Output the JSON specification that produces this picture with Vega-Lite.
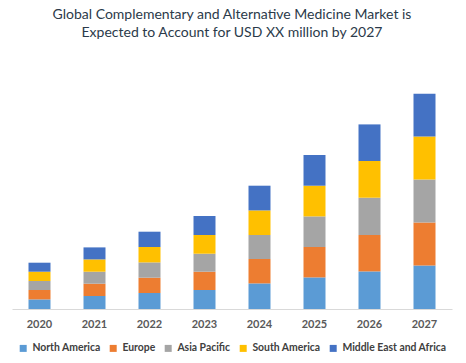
{
  "$schema": "https://vega.github.io/schema/vega-lite/v6.json",
  "width": 440,
  "height": 260,
  "autosize": {"type": "none"},
  "padding": {"left": 12, "right": 14, "top": 49, "bottom": 54},
  "background": "white",
  "title": {
    "text": ["Global Complementary and Alternative Medicine Market is", "Expected to Account for USD XX million by 2027"],
    "font": "Lato",
    "fontSize": 14,
    "fontWeight": "normal",
    "color": "#2b3a4a",
    "lineHeight": 18,
    "anchor": "middle",
    "offset": 9
  },
  "data": {
    "values": [
      {"year": "2020", "region": "North America", "value": 9.6},
      {"year": "2020", "region": "Europe", "value": 9.4},
      {"year": "2020", "region": "Asia Pacific", "value": 9.0},
      {"year": "2020", "region": "South America", "value": 9.3},
      {"year": "2020", "region": "Middle East and Africa", "value": 9.0},
      {"year": "2021", "region": "North America", "value": 13.0},
      {"year": "2021", "region": "Europe", "value": 12.3},
      {"year": "2021", "region": "Asia Pacific", "value": 12.0},
      {"year": "2021", "region": "South America", "value": 12.3},
      {"year": "2021", "region": "Middle East and Africa", "value": 12.0},
      {"year": "2022", "region": "North America", "value": 16.0},
      {"year": "2022", "region": "Europe", "value": 15.3},
      {"year": "2022", "region": "Asia Pacific", "value": 15.3},
      {"year": "2022", "region": "South America", "value": 15.4},
      {"year": "2022", "region": "Middle East and Africa", "value": 15.3},
      {"year": "2023", "region": "North America", "value": 19.0},
      {"year": "2023", "region": "Europe", "value": 18.3},
      {"year": "2023", "region": "Asia Pacific", "value": 18.0},
      {"year": "2023", "region": "South America", "value": 18.7},
      {"year": "2023", "region": "Middle East and Africa", "value": 19.0},
      {"year": "2024", "region": "North America", "value": 25.6},
      {"year": "2024", "region": "Europe", "value": 24.4},
      {"year": "2024", "region": "Asia Pacific", "value": 24.0},
      {"year": "2024", "region": "South America", "value": 24.6},
      {"year": "2024", "region": "Middle East and Africa", "value": 24.7},
      {"year": "2025", "region": "North America", "value": 31.6},
      {"year": "2025", "region": "Europe", "value": 30.4},
      {"year": "2025", "region": "Asia Pacific", "value": 30.6},
      {"year": "2025", "region": "South America", "value": 30.7},
      {"year": "2025", "region": "Middle East and Africa", "value": 30.7},
      {"year": "2026", "region": "North America", "value": 37.6},
      {"year": "2026", "region": "Europe", "value": 36.4},
      {"year": "2026", "region": "Asia Pacific", "value": 37.3},
      {"year": "2026", "region": "South America", "value": 36.7},
      {"year": "2026", "region": "Middle East and Africa", "value": 36.6},
      {"year": "2027", "region": "North America", "value": 43.6},
      {"year": "2027", "region": "Europe", "value": 43.0},
      {"year": "2027", "region": "Asia Pacific", "value": 43.0},
      {"year": "2027", "region": "South America", "value": 43.0},
      {"year": "2027", "region": "Middle East and Africa", "value": 42.7}
    ]
  },
  "transform": [
    {"calculate": "indexof(['North America', 'Europe', 'Asia Pacific', 'South America', 'Middle East and Africa'], datum.region)", "as": "stackOrder"}
  ],
  "mark": {"type": "bar"},
  "encoding": {
    "x": {
      "field": "year",
      "type": "nominal",
      "scale": {"paddingInner": 0.6, "paddingOuter": 0.3},
      "axis": {
        "title": null,
        "labelAngle": 0,
        "labelFont": "Lato",
        "labelFontSize": 11,
        "labelFontWeight": "bold",
        "labelColor": "#595959",
        "labelPadding": 9,
        "ticks": false,
        "domainColor": "#d9d9d9",
        "grid": false
      }
    },
    "y": {
      "field": "value",
      "type": "quantitative",
      "stack": "zero",
      "scale": {"domain": [0, 260]},
      "axis": null
    },
    "color": {
      "field": "region",
      "type": "nominal",
      "scale": {
        "domain": ["North America", "Europe", "Asia Pacific", "South America", "Middle East and Africa"],
        "range": ["#5b9bd5", "#ed7d31", "#a5a5a5", "#ffc000", "#4472c4"]
      },
      "legend": {
        "title": null,
        "orient": "none",
        "direction": "horizontal",
        "legendX": 6,
        "legendY": 294,
        "symbolType": "square",
        "symbolSize": 49,
        "symbolStrokeWidth": 0,
        "symbolOpacity": 1,
        "labelFont": "Lato",
        "labelFontSize": 10.4,
        "labelFontWeight": "bold",
        "labelColor": "#404040",
        "labelOffset": 4,
        "columnPadding": 7
      }
    },
    "order": {"field": "stackOrder", "type": "quantitative", "sort": "ascending"}
  },
  "config": {"view": {"stroke": null}}
}
